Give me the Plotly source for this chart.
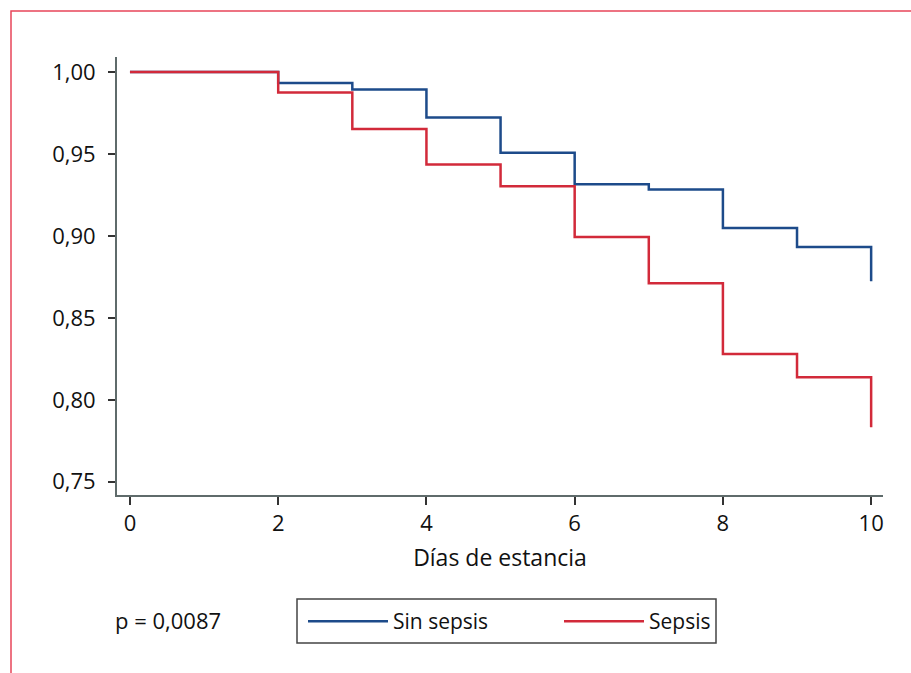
import plotly.graph_objects as go

dias = [0, 2, 3, 4, 5, 6, 7, 8, 9, 10]
sin_sepsis = [1.000, 0.9933, 0.9894, 0.9723, 0.9507, 0.9315, 0.9283, 0.9048, 0.8932, 0.8724]
sepsis = [1.000, 0.9876, 0.9653, 0.9436, 0.9303, 0.8993, 0.8712, 0.8280, 0.8138, 0.7832]

x_ticks = [0, 2, 4, 6, 8, 10]
y_ticks = [0.75, 0.80, 0.85, 0.90, 0.95, 1.00]

FONT = "Open Sans, Noto Sans, DejaVu Sans, sans-serif"
FS = 22

fig = go.Figure()
fig.add_trace(go.Scatter(x=dias, y=sin_sepsis, mode="lines", name="Sin sepsis",
                         line=dict(color="#1d4b8a", width=2.5, shape="hv")))
fig.add_trace(go.Scatter(x=dias, y=sepsis, mode="lines", name="Sepsis",
                         line=dict(color="#d22a3a", width=2.5, shape="hv")))

axis_common = dict(showline=True, linecolor="#5f6b6b", linewidth=2,
                   ticks="outside", tickcolor="#333", tickwidth=2,
                   showgrid=False, zeroline=False,
                   tickfont=dict(family=FONT, size=FS, color="#111"))

fig.update_xaxes(range=[-0.175, 10.16], tickvals=x_ticks, ticklen=8,
                 title=dict(text="Días de estancia", font=dict(family=FONT, size=23, color="#111"), standoff=13),
                 **axis_common)
fig.update_yaxes(range=[0.7419, 1.0092], tickvals=y_ticks, tickformat=".2f", ticklen=7,
                 ticklabelstandoff=8, **axis_common)

W, PL, PT, PW, PH = 911, 117, 57, 766, 438

def px_x(p):
    return (p - PL) / PW

def px_y(p):
    return (PT + PH - p) / PH

fig.add_annotation(text="p = 0,0087", xref="paper", yref="paper",
                   x=px_x(113), y=px_y(620), xanchor="left", yanchor="middle", showarrow=False,
                   font=dict(family=FONT, size=FS, color="#111"))

# legend frame
fig.add_shape(type="rect", xref="paper", yref="paper",
              x0=px_x(297), x1=px_x(716), y0=px_y(643), y1=px_y(599),
              line=dict(color="#444", width=1.5))

# red outer frame
fig.add_shape(type="rect", xref="paper", yref="paper",
              x0=px_x(11), x1=1.2, y0=-0.5, y1=px_y(11),
              line=dict(color="#e8455a", width=1.5))

fig.update_layout(
    width=W, height=673,
    margin=dict(l=PL, r=W - PL - PW, t=PT, b=673 - PT - PH),
    paper_bgcolor="white", plot_bgcolor="white",
    separators=", ",
    showlegend=True,
    legend=dict(orientation="h", x=px_x(303), y=px_y(601), xanchor="left", yanchor="top",
                borderwidth=0, itemwidth=80,
                entrywidth=161, entrywidthmode="pixels",
                bgcolor="rgba(0,0,0,0)",
                font=dict(family=FONT, size=21, color="#111")),
)

fig.write_html("out.html", config={"displayModeBar": False},
               post_script="document.body.style.margin='0';document.body.style.overflow='hidden';")
